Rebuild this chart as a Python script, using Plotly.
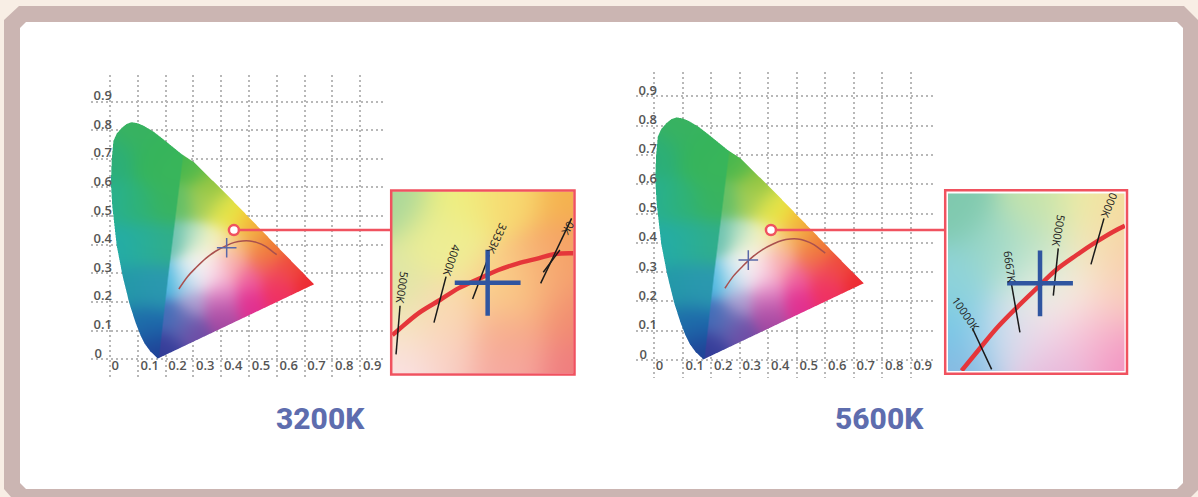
"""
Two CIE 1931 diagrams with the colour temperature marked, and a zoomed inset for each.
"""
import numpy as np
import plotly.graph_objects as go

W, H = 1198, 497

tick_vals = [0, 0.1, 0.2, 0.3, 0.4, 0.5, 0.6, 0.7, 0.8, 0.9]
x_tick_text = ["0\u00a0\u00a0\u00a0\u00a0", "0.1", "0.2", "0.3", "0.4", "0.5", "0.6", "0.7", "0.8", "0.9"]
y_tick_text = ["0\u00a0\u00a0\u00a0", "0.1", "0.2", "0.3", "0.4", "0.5", "0.6", "0.7", "0.8", "0.9"]
titles = ["3200K", "5600K"]

# spectral locus
gamut_x = [.172, .165, .145, .124, .108, .091, .069, .045, .024, .008, .003, .006, .012, .024, .042, .06, .078,
           .10, .12, .155, .192, .258, .302, .373, .444, .512, .575, .627, .691, .735]
gamut_y = [.005, .012, .03, .058, .09, .133, .2, .295, .40, .538, .62, .70, .766, .792, .812, .826, .832,
           .828, .82, .80, .772, .72, .692, .624, .555, .487, .424, .372, .308, .265]

# the edge where the darker outer band meets the lighter middle
wedge_x = [.172, .205, .258, .275]
wedge_y = [.0, .287, .703, .85]

# colours sampled from the outer band
outer_x = [.08, .02, .15, .2, .01, .1, .2, .03, .12, .2, .06, .14, .19, .1, .16, .15, .172]
outer_y = [.8, .7, .7, .65, .55, .55, .55, .4, .4, .4, .25, .25, .25, .12, .12, .04, .01]
outer_c = ["#38B260", "#2BAE78", "#35B45B", "#39B55A", "#28B08F", "#2EB277", "#38B35F", "#24ACA6",
           "#28AE9A", "#30AE8A", "#2398A8", "#2898AD", "#2C98B0", "#1D6FA9", "#1E6AAD", "#1C469A", "#233D93"]

# colours sampled from the middle of the diagram
inner_x = [.172, .2, .3, .4, .5, .6, .72, .2, .3, .4, .5, .6, .21, .27, .33, .4, .45, .55, .65,
           .23, .3, .38, .45, .52, .58, .25, .33, .4, .44, .5, .26, .3, .36, .3, .36, .34, .25, .4]
inner_y = [.01, .05, .1, .155, .2, .24, .27, .15, .2, .25, .28, .3, .27, .28, .33, .33, .33, .35, .33,
           .42, .42, .42, .4, .41, .39, .55, .55, .53, .5, .47, .70, .67, .6, .3, .3, .38, .13, .2]
inner_c = ["#2C3C95", "#3D3F9C", "#6F4BA5", "#A0449F", "#E12F90", "#EF2F62", "#ED2B33",
           "#3A6DB8", "#AFA0D2", "#EFA0CF", "#EE5CA3", "#F0485F",
           "#3BB3DD", "#A7D8ED", "#FDFAFA", "#F9C3D8", "#F7A49F", "#F1704F", "#EE4A35",
           "#64BFAE", "#B4E0C4", "#F4F3B8", "#F8C98F", "#F29C49", "#EF7E2D",
           "#5FBE67", "#A4CD5A", "#D8E04F", "#F0E73F", "#F3B733",
           "#3DB550", "#5DBB4A", "#93C53F", "#E6EFF5", "#F9E0EC", "#FBF6D8", "#5F6DB5", "#CF6AB8"]

# planckian locus on the large diagrams
locus_x = [.248, .279, .31, .345, .38, .417, .448, .477, .503, .527, .56, .586, .60]
locus_y = [.245, .288, .32, .352, .377, .396, .408, .413, .413, .408, .394, .375, .365]

cross_x = [.42, .33]
cross_y = [.389, .341]
pointer_x = [.446, .4095]
pointer_y = [.451, .4437]

# left inset, in chromaticity units
inset1_locus_x = [.3403, .3455, .3629, .3817, .3977, .4165, .4325, .4498, .4672, .4817, .4977]
inset1_locus_y = [.3490, .3534, .3679, .3795, .3896, .3983, .4056, .4114, .4157, .4195, .4201]
inset1_iso_x = [.3470, .3435, None, .3870, .3765, None, .4246, .4101, None, .4962, .4693, None, .486, .4716]
inset1_iso_y = [.3745, .3322, None, .3998, .3598, None, .4186, .3803, None, .4505, .3940, None, .423, .4036]
inset1_labels = ["5000K", "4000K", "3333K", "0K"]
inset1_label_x = [.349, .3919, .4319, .4933]
inset1_label_y = [.3902, .4143, .4331, .4423]
inset1_label_angle = [98, 108, 115, 120]
inset1_cross = (.4232, .3945)
inset1_grad_x = [.34, .40, .44, .498, .498, .498, .498, .44, .34, .34, .385, .385, .44, .34, .385, .44, .34, .47]
inset1_grad_y = [.474, .474, .474, .474, .42, .37, .316, .316, .316, .39, .43, .365, .39, .35, .33, .35, .33, .40]
inset1_grad_c = ["#A9D79A", "#EFF07F", "#F8D870", "#F4B24C", "#F59E65", "#F18A6F", "#EF7C7E",
                 "#F6A8A4", "#FBE3F0", "#DDE6A6", "#EEEE95", "#FBDAB2", "#FBD58C", "#F5E9B4",
                 "#F8CFC6", "#F6A98A", "#FBDDE0", "#F7B377"]

# right inset
inset2_locus_x = [.2631, .2790, .2934, .3102, .3281, .3448, .3627, .3800, .3944, .4045]
inset2_locus_y = [.2690, .2878, .3046, .3214, .3382, .3536, .3662, .3774, .3858, .3908]
inset2_iso_x = [.2724, .2891, None, .3064, .3136, None, .3468, .3425, None, .3864, .3751]
inset2_iso_y = [.3046, .2701, None, .3410, .3012, None, .3718, .3320, None, .3970, .3583]
inset2_labels = ["10000K", "6667K", "5000K", "000K"]
inset2_label_x = [.2669, .3050, .3477, .3910]
inset2_label_y = [.3172, .3564, .3863, .4076]
inset2_label_angle = [55, 82, 100, 112]
inset2_cross = (.3310, .3424)
inset2_grad_x = [.256, .331, .374, .4, .256, .299, .331, .331, .374, .4, .256, .256, .299, .331, .374, .4, .345, .4, .36]
inset2_grad_y = [.41, .41, .41, .41, .34, .37, .37, .34, .37, .37, .30, .27, .30, .30, .30, .285, .27, .33, .335]
inset2_grad_c = ["#7FC9AE", "#C5E3A9", "#EFEFA6", "#F5D89C", "#8FD3D9", "#98D6C9", "#BFE3C4", "#E6F1E6",
                 "#F5EDC0", "#F8C8A4", "#6FC7E8", "#8CB6E0", "#C9DDEE", "#F5DDEB", "#F7C3D8", "#F28FBF",
                 "#E4B3D9", "#F9CBB9", "#FBEDE4"]


def to_rgb(colors):
    return np.array([[int(c[i:i + 2], 16) for i in (1, 3, 5)] for c in colors], dtype=float)


def blend(xx, yy, ax, ay, colors, sigma):
    # gaussian weights between the sampled colours
    rgb = to_rgb(colors)
    d2 = (xx[..., None] - np.array(ax)) ** 2 + (yy[..., None] - np.array(ay)) ** 2
    w = np.exp(-d2 / (2 * sigma ** 2)) + 1e-12
    return (w[..., None] * rgb).sum(axis=-2) / w.sum(axis=-1, keepdims=True)


def inside(xx, yy, px, py):
    px, py = np.array(px), np.array(py)
    hit = np.zeros(xx.shape, dtype=bool)
    for i in range(len(px)):
        j = i - 1
        cond = (py[i] > yy) != (py[j] > yy)
        xcross = (px[j] - px[i]) * (yy - py[i]) / (py[j] - py[i] + 1e-12) + px[i]
        hit ^= cond & (xx < xcross)
    return hit


def gamut_image(x0, x1, y0, y1, nx, ny):
    xs = np.linspace(x0, x1, nx)
    ys = np.linspace(y0, y1, ny)
    xx, yy = np.meshgrid(xs, ys)
    outer = blend(xx, yy, outer_x, outer_y, outer_c, 0.05)
    inner = blend(xx, yy, inner_x, inner_y, inner_c, 0.04)
    t = np.clip((xx - np.interp(yy, wedge_y, wedge_x)) / 0.006, 0, 1)[..., None]
    rgb = outer * (1 - t) + inner * t
    # alpha from a finer grid so the edge is soft
    sx = np.linspace(x0, x1, nx * 3)
    sy = np.linspace(y0, y1, ny * 3)
    hit = inside(*np.meshgrid(sx, sy), gamut_x, gamut_y).astype(float)
    alpha = hit.reshape(ny, 3, nx, 3).mean(axis=(1, 3)) * 255
    return np.dstack([rgb, alpha]).round().astype(int)


def field_image(x0, x1, y0, y1, nx, ny, ax, ay, colors):
    xx, yy = np.meshgrid(np.linspace(x0, x1, nx), np.linspace(y0, y1, ny))
    return blend(xx, yy, ax, ay, colors, 0.022).round().astype(int)


def fx(px):
    return px / W


def fy(py):
    return 1 - py / H


def path(points):
    return "M" + "L".join(f"{fx(a):.5f},{fy(b):.5f}" for a, b in points) + "Z"


RED = "#F0525F"
LOCUS = "#A9504E"
INSET_RED = "#E5363A"
CROSS = "#5A68A8"
INSET_CROSS = "#2F55A0"

fig = go.Figure()

# large diagrams: x scale, y scale, plot box in px
boxes = [
    dict(x=(91, 386), y=(75, 378), xr=(-.068, .993), yr=(-.066, .993), suffix=""),
    dict(x=(636, 933), y=(72, 378), xr=(-.064, .978), yr=(-.0614, .983), suffix="2"),
]
layout = {}
for i, b in enumerate(boxes):
    xname, yname = "xaxis" + b["suffix"], "yaxis" + b["suffix"]
    nx, ny = b["x"][1] - b["x"][0], b["y"][1] - b["y"][0]
    dx = (b["xr"][1] - b["xr"][0]) / nx
    dy = (b["yr"][1] - b["yr"][0]) / ny
    img = gamut_image(b["xr"][0], b["xr"][1], b["yr"][0], b["yr"][1], nx, ny)
    fig.add_trace(go.Image(z=img.tolist(), colormodel="rgba", zmin=[0, 0, 0, 0], zmax=[255, 255, 255, 255],
                           x0=b["xr"][0], dx=dx, y0=b["yr"][0], dy=dy,
                           xaxis="x" + b["suffix"], yaxis="y" + b["suffix"], hoverinfo="skip"))
    fig.add_trace(go.Scatter(x=locus_x, y=locus_y, mode="lines", line=dict(color=LOCUS, width=1.5, shape="spline"),
                             xaxis="x" + b["suffix"], yaxis="y" + b["suffix"], showlegend=False))
    fig.add_trace(go.Scatter(x=[cross_x[i]], y=[cross_y[i]], mode="markers",
                             marker=dict(symbol="cross-thin", size=14, line=dict(color=CROSS, width=1.5)),
                             xaxis="x" + b["suffix"], yaxis="y" + b["suffix"], showlegend=False))
    fig.add_trace(go.Scatter(x=[pointer_x[i]], y=[pointer_y[i]], mode="markers",
                             marker=dict(symbol="circle", size=10, color="white", line=dict(color=RED, width=2.5)),
                             xaxis="x" + b["suffix"], yaxis="y" + b["suffix"], showlegend=False))
    tick = dict(family="Open Sans", size=13, color="#555555", weight=600)
    grid = dict(showgrid=True, griddash="2px,3px", gridcolor="#B8B8B8", gridwidth=1.5)
    layout[xname] = dict(domain=[fx(b["x"][0]), fx(b["x"][1])], range=list(b["xr"]), tickmode="array",
                         tickvals=tick_vals, ticktext=x_tick_text, tickfont=tick, ticklabelshift=12,
                         ticklabelstandoff=-22, ticks="", showline=False, zeroline=False,
                         anchor="y" + b["suffix"], constrain="range", **grid)
    layout[yname] = dict(domain=[fy(b["y"][1]), fy(b["y"][0])], range=list(b["yr"]), tickmode="array",
                         tickvals=tick_vals, ticktext=y_tick_text, tickfont=tick, ticklabelshift=-6,
                         ticklabelstandoff=-22, ticks="", showline=False, zeroline=False,
                         anchor="x" + b["suffix"], scaleanchor=False, constrain="range", **grid)

# zoomed insets
insets = [
    dict(x=(392, 574), y=(191, 373), xr=(.34, .4983), yr=(.316, .4743), suffix="3",
         lx=inset1_locus_x, ly=inset1_locus_y, ix=inset1_iso_x, iy=inset1_iso_y,
         gx=inset1_grad_x, gy=inset1_grad_y, gc=inset1_grad_c, cross=inset1_cross,
         labels=inset1_labels, tx=inset1_label_x, ty=inset1_label_y, ta=inset1_label_angle),
    dict(x=(948, 1125), y=(193, 371), xr=(.2513, .4046), yr=(.2687, .4183), suffix="4",
         lx=inset2_locus_x, ly=inset2_locus_y, ix=inset2_iso_x, iy=inset2_iso_y,
         gx=inset2_grad_x, gy=inset2_grad_y, gc=inset2_grad_c, cross=inset2_cross,
         labels=inset2_labels, tx=inset2_label_x, ty=inset2_label_y, ta=inset2_label_angle),
]
annotations = []
for b in insets:
    s = b["suffix"]
    nx, ny = b["x"][1] - b["x"][0], b["y"][1] - b["y"][0]
    dx = (b["xr"][1] - b["xr"][0]) / nx
    dy = (b["yr"][1] - b["yr"][0]) / ny
    img = field_image(b["xr"][0], b["xr"][1], b["yr"][0], b["yr"][1], nx, ny, b["gx"], b["gy"], b["gc"])
    fig.add_trace(go.Image(z=img.tolist(), colormodel="rgb", x0=b["xr"][0], dx=dx, y0=b["yr"][0], dy=dy,
                           xaxis="x" + s, yaxis="y" + s, hoverinfo="skip"))
    fig.add_trace(go.Scatter(x=b["lx"], y=b["ly"], mode="lines", line=dict(color=INSET_RED, width=4.5, shape="spline"),
                             xaxis="x" + s, yaxis="y" + s, showlegend=False))
    fig.add_trace(go.Scatter(x=b["ix"], y=b["iy"], mode="lines", line=dict(color="#1A1A1A", width=1.5),
                             xaxis="x" + s, yaxis="y" + s, showlegend=False))
    fig.add_trace(go.Scatter(x=[b["cross"][0]], y=[b["cross"][1]], mode="markers",
                             marker=dict(symbol="cross-thin", size=47, line=dict(color=INSET_CROSS, width=4.5)),
                             xaxis="x" + s, yaxis="y" + s, showlegend=False))
    layout["xaxis" + s] = dict(domain=[fx(b["x"][0]), fx(b["x"][1])], range=list(b["xr"]), visible=False,
                               anchor="y" + s, constrain="range")
    layout["yaxis" + s] = dict(domain=[fy(b["y"][1]), fy(b["y"][0])], range=list(b["yr"]), visible=False,
                               anchor="x" + s, scaleanchor=False, constrain="range")
    for text, tx, ty, ta in zip(b["labels"], b["tx"], b["ty"], b["ta"]):
        annotations.append(dict(x=tx, y=ty, xref="x" + s, yref="y" + s, text=text, textangle=ta, showarrow=False,
                                font=dict(family="Open Sans", size=11, color="#222222")))

for label, cx in zip(titles, [320, 880]):
    annotations.append(dict(x=fx(cx), y=fy(418), xref="paper", yref="paper", text=label, showarrow=False,
                            xanchor="center", yanchor="middle",
                            font=dict(family="Roboto", size=30, color="#5E6DAE", weight=800)))

shapes = [
    dict(type="path", xref="paper", yref="paper", layer="below", line=dict(width=0), fillcolor="#CBB5B2",
         path=path([(4, 20), (19, 6), (1184, 6), (1198, 20), (1198, 490), (1191, 497), (11, 497), (4, 489)])),
    dict(type="path", xref="paper", yref="paper", layer="below", line=dict(width=0), fillcolor="white",
         path=path([(20, 28), (26, 22), (1177, 22), (1183, 28), (1183, 483), (1177, 489), (26, 489), (20, 483)])),
    dict(type="rect", xref="paper", yref="paper", layer="below", line=dict(width=0), fillcolor="white",
         x0=fx(945), x1=fx(1127), y0=fy(374), y1=fy(190)),
    dict(type="line", xref="paper", yref="paper", line=dict(color=RED, width=2.5),
         x0=fx(240), x1=fx(390), y0=fy(230), y1=fy(230)),
    dict(type="line", xref="paper", yref="paper", line=dict(color=RED, width=2.5),
         x0=fx(776), x1=fx(945), y0=fy(230), y1=fy(230)),
    dict(type="rect", xref="paper", yref="paper", line=dict(color=RED, width=2.5), fillcolor="rgba(0,0,0,0)",
         x0=fx(391.2), x1=fx(574.5), y0=fy(374.5), y1=fy(190.5)),
    dict(type="rect", xref="paper", yref="paper", line=dict(color=RED, width=2.5), fillcolor="rgba(0,0,0,0)",
         x0=fx(945.2), x1=fx(1127), y0=fy(373.8), y1=fy(190.2)),
]

fig.update_layout(width=W, height=H, margin=dict(l=0, r=0, t=0, b=0), paper_bgcolor="#F8EEE5",
                  plot_bgcolor="rgba(0,0,0,0)", showlegend=False, shapes=shapes, annotations=annotations, **layout)

# the page's default body margin would push the figure off its 1198x497 window
fig.write_html("out.html", config=dict(displayModeBar=False), post_script="document.body.style.margin = '0';")
